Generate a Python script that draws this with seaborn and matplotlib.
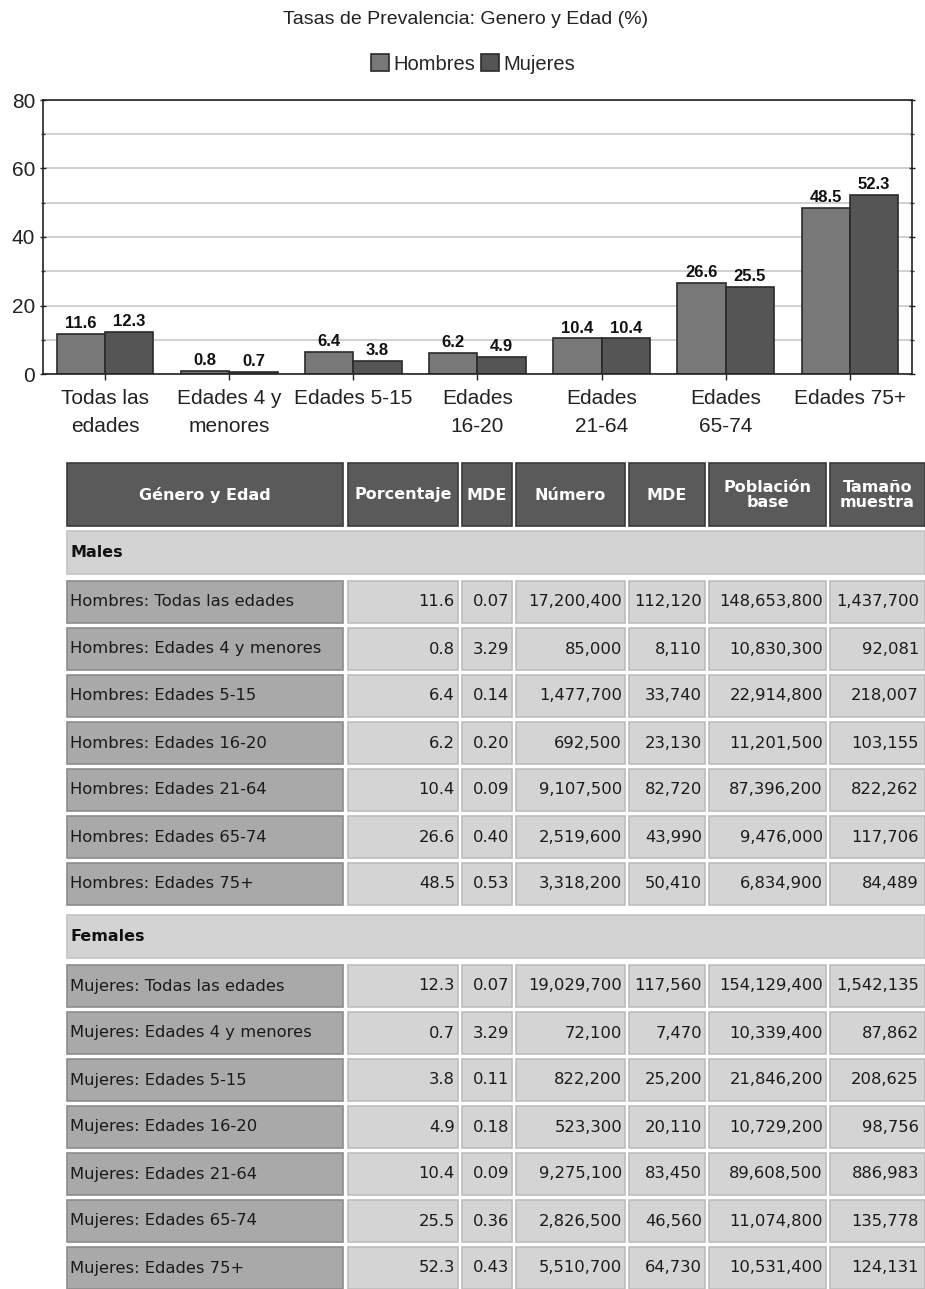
import matplotlib
matplotlib.use("Agg")
import matplotlib.pyplot as plt
from matplotlib.patches import Rectangle
from matplotlib.ticker import MultipleLocator
import seaborn as sns
import pandas as pd

# ---- chart data -------------------------------------------------------
grupos = ["Todas las\nedades", "Edades 4 y\nmenores", "Edades 5-15",
          "Edades\n16-20", "Edades\n21-64", "Edades\n65-74", "Edades 75+"]
hombres = [11.6, 0.8, 6.4, 6.2, 10.4, 26.6, 48.5]
mujeres = [12.3, 0.7, 3.8, 4.9, 10.4, 25.5, 52.3]

# ---- table data -------------------------------------------------------
columnas = ["Género y Edad", "Porcentaje", "MDE", "Número", "MDE",
            "Población\nbase", "Tamaño\nmuestra"]
etiquetas_h = ["Hombres: Todas las edades", "Hombres: Edades 4 y menores",
               "Hombres: Edades 5-15", "Hombres: Edades 16-20",
               "Hombres: Edades 21-64", "Hombres: Edades 65-74",
               "Hombres: Edades 75+"]
etiquetas_m = ["Mujeres: Todas las edades", "Mujeres: Edades 4 y menores",
               "Mujeres: Edades 5-15", "Mujeres: Edades 16-20",
               "Mujeres: Edades 21-64", "Mujeres: Edades 65-74",
               "Mujeres: Edades 75+"]
mde_pct_h = ["0.07", "3.29", "0.14", "0.20", "0.09", "0.40", "0.53"]
mde_pct_m = ["0.07", "3.29", "0.11", "0.18", "0.09", "0.36", "0.43"]
numero_h = ["17,200,400", "85,000", "1,477,700", "692,500", "9,107,500",
            "2,519,600", "3,318,200"]
numero_m = ["19,029,700", "72,100", "822,200", "523,300", "9,275,100",
            "2,826,500", "5,510,700"]
mde_num_h = ["112,120", "8,110", "33,740", "23,130", "82,720", "43,990", "50,410"]
mde_num_m = ["117,560", "7,470", "25,200", "20,110", "83,450", "46,560", "64,730"]
poblacion_h = ["148,653,800", "10,830,300", "22,914,800", "11,201,500",
               "87,396,200", "9,476,000", "6,834,900"]
poblacion_m = ["154,129,400", "10,339,400", "21,846,200", "10,729,200",
               "89,608,500", "11,074,800", "10,531,400"]
muestra_h = ["1,437,700", "92,081", "218,007", "103,155", "822,262",
             "117,706", "84,489"]
muestra_m = ["1,542,135", "87,862", "208,625", "98,756", "886,983",
             "135,778", "124,131"]

W, H = 925, 1289
sns.set_theme(style="white")
plt.rcParams["font.family"] = ["Liberation Sans Narrow", "Liberation Sans", "DejaVu Sans"]

fig = plt.figure(figsize=(W / 100, H / 100), dpi=100)

# ---- bar chart --------------------------------------------------------
px_l, px_r, px_t, px_b = 43, 912, 100, 374
ax = fig.add_axes([px_l / W, 1 - px_b / H, (px_r - px_l) / W, (px_b - px_t) / H])

df = pd.DataFrame({
    "grupo": grupos * 2,
    "valor": hombres + mujeres,
    "sexo": ["Hombres"] * len(grupos) + ["Mujeres"] * len(grupos),
})
sns.barplot(data=df, x="grupo", y="valor", hue="sexo",
            palette=["#787878", "#555555"], width=0.78, gap=0,
            edgecolor="#2a2a2a", linewidth=1.2, saturation=1, ax=ax)

for cont in ax.containers:
    ax.bar_label(cont, fmt="%.1f", padding=2, fontsize=12,
                 fontweight="bold", color="#111111")

ax.set_ylim(0, 80)
ax.set_xlim(-0.5, len(grupos) - 0.5)
ax.yaxis.set_major_locator(MultipleLocator(20))
ax.yaxis.set_minor_locator(MultipleLocator(10))
ax.grid(axis="y", which="both", color="#c8c8c8", linewidth=1.2)
ax.set_axisbelow(True)
ax.set_xlabel("")
ax.set_ylabel("")
for s in ax.spines.values():
    s.set_color("#222222")
    s.set_linewidth(1.2)
ax.tick_params(axis="y", which="major", length=4, width=1, labelsize=15,
               colors="#222222", left=True, right=True, direction="inout")
ax.tick_params(axis="y", which="minor", length=3, width=1, left=True,
               right=True, direction="inout", colors="#444444")
ax.tick_params(axis="x", length=4, width=1, bottom=True, labelsize=15,
               pad=7, colors="#222222")
for lab in ax.get_xticklabels():
    lab.set_linespacing(1.55)
    lab.set_verticalalignment("top")

sns.move_legend(ax, "lower center", bbox_to_anchor=(0.495, 1.03), ncol=2,
                frameon=False, title=None, fontsize=14.5, handlelength=0.9,
                handleheight=0.9, handletextpad=0.2, columnspacing=0.3)

fig.text(466 / W, 1 - 19 / H, "Tasas de Prevalencia: Genero y Edad (%)",
         ha="center", va="center", fontsize=14, color="#222222")

# ---- table ------------------------------------------------------------
tx = fig.add_axes([0, 0, 1, 1])
tx.set_xlim(0, W)
tx.set_ylim(H, 0)
tx.axis("off")

col_x = [(67, 343), (348, 458), (462, 512), (516, 625), (629, 705),
         (709, 826), (830, 925)]
tfont = ["DejaVu Sans"]
fs = 11.8


def cell(x0, x1, y0, y1, face, edge):
    tx.add_patch(Rectangle((x0, y0), x1 - x0, y1 - y0, facecolor=face,
                           edgecolor=edge, linewidth=1.2))


# header
for (x0, x1), name in zip(col_x, columnas):
    cell(x0, x1, 463, 526, "#5a5a5a", "#3a3a3a")
    tx.text((x0 + x1) / 2, 495, name, ha="center", va="center",
            fontsize=11.5, fontweight="bold", color="white", family=tfont,
            linespacing=1.0)


def group_block(title, top, labels, cols):
    cell(67, 925, top, top + 43, "#d3d3d3", "#c4c4c4")
    tx.text(70, top + 21.5, title, ha="left", va="center", fontsize=11.5,
            fontweight="bold", color="#111111", family=tfont)
    for i, lab in enumerate(labels):
        y0 = top + 50 + 47 * i
        y1 = y0 + 42
        yc = (y0 + y1) / 2
        cell(*col_x[0], y0, y1, "#a9a9a9", "#8c8c8c")
        tx.text(70, yc, lab, ha="left", va="center", fontsize=fs,
                color="#1a1a1a", family=tfont)
        for (x0, x1), vals in zip(col_x[1:], cols):
            cell(x0, x1, y0, y1, "#d4d4d4", "#bdbdbd")
            tx.text(min(x1, 922) - 3, yc, vals[i], ha="right", va="center",
                    fontsize=fs, color="#1a1a1a", family=tfont)


cols_h = [[f"{v:.1f}" for v in hombres], mde_pct_h, numero_h, mde_num_h,
          poblacion_h, muestra_h]
cols_m = [[f"{v:.1f}" for v in mujeres], mde_pct_m, numero_m, mde_num_m,
          poblacion_m, muestra_m]
group_block("Males", 531, etiquetas_h, cols_h)
group_block("Females", 915, etiquetas_m, cols_m)

fig.savefig("out.png", dpi=100, facecolor="white")
